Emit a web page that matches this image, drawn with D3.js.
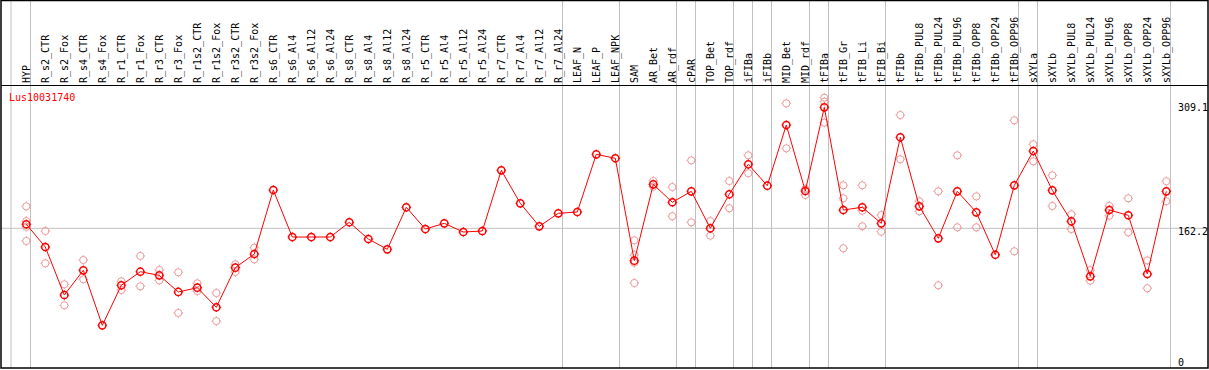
<!DOCTYPE html>
<html><head><meta charset="utf-8">
<script src="https://cdn.jsdelivr.net/npm/d3@7/dist/d3.min.js"></script>
<style>
html,body{margin:0;padding:0;background:#fff;}
svg{display:block;}
text{font-family:"DejaVu Sans Mono",monospace;font-size:10px;}
</style></head>
<body>
<script>
const categories = ["HYP","R_s2_CTR","R_s2_Fox","R_s4_CTR","R_s4_Fox","R_r1_CTR","R_r1_Fox","R_r3_CTR","R_r3_Fox","R_r1s2_CTR","R_r1s2_Fox","R_r3s2_CTR","R_r3s2_Fox","R_s6_CTR","R_s6_Al4","R_s6_Al12","R_s6_Al24","R_s8_CTR","R_s8_Al4","R_s8_Al12","R_s8_Al24","R_r5_CTR","R_r5_Al4","R_r5_Al12","R_r5_Al24","R_r7_CTR","R_r7_Al4","R_r7_Al12","R_r7_Al24","LEAF_N","LEAF_P","LEAF_NPK","SAM","AR_Bet","AR_rdf","cPAR","TOP_Bet","TOP_rdf","iFIBa","iFIBb","MID_Bet","MID_rdf","tFIBa","tFIB_Gr","tFIB_Li","tFIB_Bi","tFIBb","tFIBb_PUL8","tFIBb_PUL24","tFIBb_PUL96","tFIBb_OPP8","tFIBb_OPP24","tFIBb_OPP96","sXYLa","sXYLb","sXYLb_PUL8","sXYLb_PUL24","sXYLb_PUL96","sXYLb_OPP8","sXYLb_OPP24","sXYLb_OPP96"];

const means = [167.1,139.5,81.2,111.2,44.4,93.0,109.5,105.1,84.9,90.1,66.3,114.4,131.0,208.7,151.6,151.6,151.6,169.5,149.2,136.7,187.7,161.3,168.2,157.7,158.9,232.6,192.5,164.6,180.4,182.0,252.0,247.2,122.9,215.6,193.8,207.1,162.2,203.5,239.9,213.9,287.6,207.5,309.1,184.4,187.7,168.2,272.7,188.9,150.0,207.1,181.6,130.1,214.4,256.0,208.3,170.7,103.9,184.4,178.0,106.7,207.1];

const replicates = [
 [188.9,171,164,146.8],[158.9,119.7],[94.2,68.7],[123.7,100.3],[],[97.8,87.3],[128.6,91.8],[111.6,99],[108.8,59.4],[95.4,86],[83.6,49.6],[118.5,109.1],[138.7,124.5],
 [],[],[],[],[],[],[],[],[],[],[],[],[],[],[],[],[],[],[],
 [147.6,129.8,120.4,95.8],[219.6,212.7],[212.3,176.8],[244.7,169.5],[171,153.2],[219.6,186.5],[250.8,229],[],[313.9,259.3],[209.9,202.6],[320.8,315.9,290.4],[214.4,198.6,137.9],[214.4,183.6,164.6],[178.3,158.1],[299.7,246],
 [195,182.8],[207.1,93],[250.8,163.4],[201,163.4],[],[293.3,134.3],[264.2,243.5],[226.5,189.3],[179.2,161.3],[111.2,98.6],[189.3,177.5],[198.6,157.3],[123.3,89.4],[219.3,195]
];

const groupEnds = ["HYP","R_r7_Al24","LEAF_NPK","AR_rdf","cPAR","TOP_rdf","iFIBa","iFIBb","MID_rdf","tFIBa","tFIB_Bi","tFIBb_OPP96","sXYLa","sXYLb_OPP96"];
const yTicks = [309.1, 162.2, 0];
const refValue = 162.2;
const geneName = "Lus10031740";

const W = 1209, H = 370;
const svg = d3.select("body").append("svg").attr("width", W).attr("height", H);

const x = d3.scalePoint().domain(categories).range([26.3, 1166.3]);
const y = d3.scaleLinear().domain([0, 309.1]).range([361.9, 107.3]);

const grid = "#c0c0c0";
// vertical group lines
svg.append("line").attr("x1", x(categories[0]) - 15.3).attr("x2", x(categories[0]) - 15.3)
  .attr("y1", 0).attr("y2", 368).attr("stroke", grid).attr("stroke-width", 1);
svg.selectAll("line.g").data(groupEnds).enter().append("line")
  .attr("x1", d => x(d) + 4.2).attr("x2", d => x(d) + 4.2)
  .attr("y1", 0).attr("y2", 368).attr("stroke", grid).attr("stroke-width", 1);
// horizontal reference line
svg.append("line").attr("x1", 1).attr("x2", 1208).attr("y1", y(refValue)).attr("y2", y(refValue))
  .attr("stroke", grid).attr("stroke-width", 1);

// frame
svg.append("rect").attr("x", 1).attr("y", 0.5).attr("width", 1207).attr("height", 367.5)
  .attr("fill", "none").attr("stroke", "#000").attr("stroke-width", 1.5);
svg.append("line").attr("x1", 1).attr("x2", 1208).attr("y1", 85.5).attr("y2", 85.5)
  .attr("stroke", "#000").attr("stroke-width", 1);

// category labels
svg.selectAll("text.cat").data(categories).enter().append("text")
  .attr("transform", d => `translate(${x(d) + 4},83) rotate(-90)`)
  .attr("text-anchor", "start").attr("fill", "#000").text(d => d);

// gene name
svg.append("text").attr("x", 9).attr("y", 101).attr("fill", "#ff0000").text(geneName);

// y labels
svg.selectAll("text.yt").data(yTicks).enter().append("text")
  .attr("x", 1178).attr("y", d => d === refValue ? y(d) + 7 : y(d) + 3.6)
  .attr("fill", "#000").text(d => d);

function marker(g, cx, cy, color, sw) {
  g.append("circle").attr("cx", cx).attr("cy", cy).attr("r", 3.6)
    .attr("fill", "none").attr("stroke", color).attr("stroke-width", sw);
  const t = [[0,-1],[0,1],[-1,0],[1,0]];
  t.forEach(([dx, dy]) => {
    g.append("line").attr("x1", cx + dx*3.6).attr("y1", cy + dy*3.6)
      .attr("x2", cx + dx*4.8).attr("y2", cy + dy*4.8)
      .attr("stroke", color).attr("stroke-width", 1);
  });
}

// replicates
const pale = "#ef9a9a";
const gr = svg.append("g");
replicates.forEach((reps, i) => {
  reps.forEach(v => marker(gr, x(categories[i]), y(v), pale, 1));
});

// mean line
const line = d3.line().x((d, i) => x(categories[i])).y(d => y(d));
svg.append("path").datum(means).attr("d", line).attr("fill", "none")
  .attr("stroke", "#ff0000").attr("stroke-width", 1);

const gm = svg.append("g");
means.forEach((v, i) => marker(gm, x(categories[i]), y(v), "#ff0000", 1.5));
</script>
</body></html>
